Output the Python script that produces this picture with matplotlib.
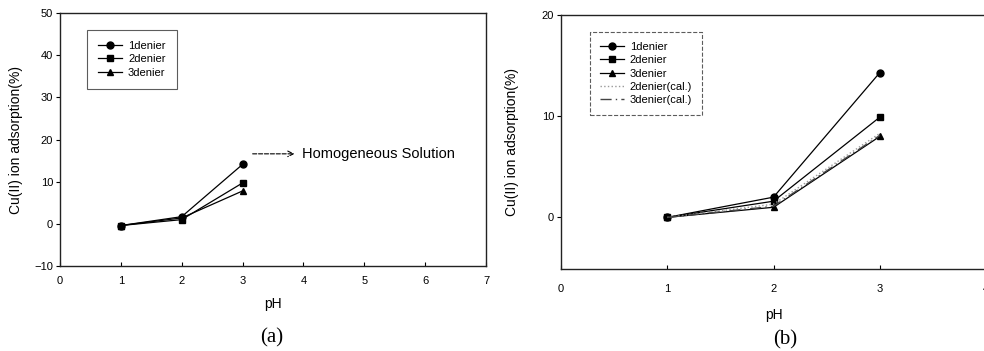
import matplotlib.pyplot as plt

plt.rcParams['font.family'] = ['Liberation Sans', 'DejaVu Sans']

# data
ph = [1, 2, 3]
a_1denier = [-0.4, 1.7, 14.1]
a_2denier = [-0.4, 1.0, 9.7]
a_3denier = [-0.4, 1.4, 7.8]

b_1denier = [0.0, 2.0, 14.3]
b_2denier = [0.0, 1.6, 9.9]
b_3denier = [0.0, 1.0, 8.0]
b_2denier_cal = [0.0, 1.3, 8.3]
b_3denier_cal = [0.0, 1.1, 8.1]

fig = plt.figure(figsize=(9.84, 3.51), dpi=100)
W, H = 984, 351


def box(ax, xpad):
    for s in ax.spines.values():
        s.set_linewidth(1.0)
        s.set_color('#222222')
    ax.tick_params(axis='y', direction='out', length=3, width=0.8, labelsize=8, pad=2)
    ax.tick_params(axis='x', direction='in', length=3, width=0.8, labelsize=8, pad=xpad)


# (a)
axa = fig.add_axes([60 / W, (H - 266) / H, 426 / W, 253 / H])
axa.plot(ph, a_1denier, '-o', color='black', lw=0.9, ms=5, label='1denier')
axa.plot(ph, a_2denier, '-s', color='black', lw=0.9, ms=5, label='2denier')
axa.plot(ph, a_3denier, '-^', color='black', lw=0.9, ms=5, label='3denier')
axa.set_xlim(0, 7)
axa.set_ylim(-10, 50)
axa.set_xticks(range(0, 8))
axa.set_yticks(range(-10, 51, 10))
box(axa, 7)
axa.set_xlabel('pH', fontsize=10, labelpad=8)
axa.set_ylabel('Cu(II) ion adsorption(%)', fontsize=10, labelpad=8)
axa.annotate('', xy=(3.9, 16.6), xytext=(3.12, 16.6),
             arrowprops=dict(arrowstyle='->', linestyle='--', lw=0.8, color='black'))
axa.text(3.98, 16.6, 'Homogeneous Solution', fontsize=10.5, va='center', ha='left')
lga = axa.legend(loc='upper left', bbox_to_anchor=(0.05, 0.955), fontsize=8,
                 frameon=True, fancybox=False, edgecolor='#333333',
                 handlelength=2.2, borderpad=1.0, labelspacing=0.3, handletextpad=0.5)
lga.get_frame().set_linewidth(0.8)
fig.text(272 / W, 1 - 338 / H, '(a)', family='Liberation Serif', fontsize=15,
         ha='center', va='center')

# (b)
axb = fig.add_axes([561 / W, (H - 269) / H, 425 / W, 254 / H])
axb.plot(ph, b_1denier, '-o', color='black', lw=0.9, ms=5, label='1denier')
axb.plot(ph, b_2denier, '-s', color='black', lw=0.9, ms=5, label='2denier')
axb.plot(ph, b_3denier, '-^', color='black', lw=0.9, ms=5, label='3denier')
axb.plot(ph, b_2denier_cal, ':', color='#999999', lw=1.0, label='2denier(cal.)')
axb.plot(ph, b_3denier_cal, linestyle=(0, (8, 3, 1, 3)), color='#444444', lw=1.0,
         label='3denier(cal.)')
axb.set_xlim(0, 4)
axb.set_ylim(-5.1, 20)
axb.set_xticks(range(0, 5))
axb.set_yticks([0, 10, 20])
box(axb, 11)
axb.set_xlabel('pH', fontsize=10, labelpad=10)
axb.set_ylabel('Cu(II) ion adsorption(%)', fontsize=10, labelpad=16)
lgb = axb.legend(loc='upper left', bbox_to_anchor=(0.055, 0.955), fontsize=8,
                 frameon=True, fancybox=False, edgecolor='#333333',
                 handlelength=2.2, borderpad=0.9, labelspacing=0.3, handletextpad=0.5)
lgb.get_frame().set_linewidth(0.8)
lgb.get_frame().set_linestyle('--')
fig.text(785 / W, 1 - 340 / H, '(b)', family='Liberation Serif', fontsize=15,
         ha='center', va='center')

fig.savefig('out.png', dpi=100)
